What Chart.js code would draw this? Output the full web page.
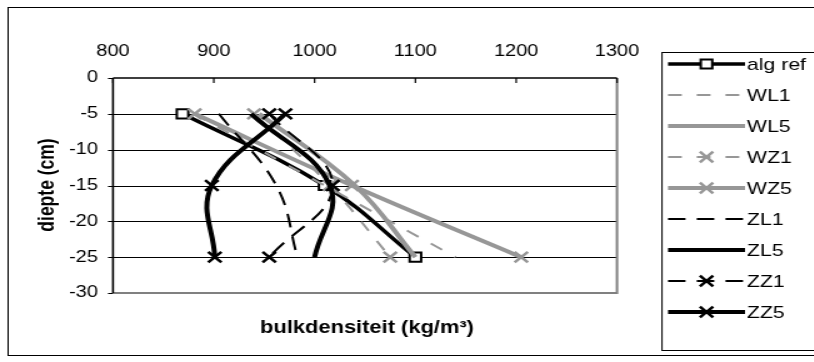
<!DOCTYPE html>
<html>
<head>
<meta charset="utf-8">
<script src="https://cdn.jsdelivr.net/npm/chart.js@4"></script>
<style>
  html, body { margin: 0; padding: 0; background: #fff; overflow: hidden; }
  /* the chart is laid out narrow and widened horizontally */
  #wrap { width: 651px; height: 362px; transform: scaleX(1.25); transform-origin: 0 0; }
</style>
</head>
<body>
<div id="wrap"><canvas id="c" width="651" height="362"></canvas></div>
<script>
// depth levels (cm) and measured bulk density per treatment (kg/m³)
const depths = [-5, -15, -25];
const xTicks = [800, 900, 1000, 1100, 1200, 1300];
const yTicks = [0, -5, -10, -15, -20, -25, -30];
const seriesNames = ['alg ref', 'WL1', 'WL5', 'WZ1', 'WZ5', 'ZL1', 'ZL5', 'ZZ1', 'ZZ5'];
const algRef = [869, 1010, 1100];
const wl1 = [880, 1010, 1140];
const wl5 = [945, 1040, 1100];
const wz1 = [940, 1015, 1075];
const wz5 = [881, 1037, 1205];
const zl1 = [905, 962, 983];
const zl5 = [937, 1015, 1000];
const zz1 = [955, 1018, 955];
const zz5 = [971, 898, 901];
const xTitle = 'bulkdensiteit (kg/m³)';
const yTitle = 'diepte (cm)';

const seriesValues = [algRef, wl1, wl5, wz1, wz5, zl1, zl5, zz1, zz5];

const GRAY = '#979797';
const BLACK = '#000000';
const styles = [
  { color: BLACK, width: 3.5, dash: [],       marker: 'rect' },
  { color: GRAY,  width: 2,   dash: [11, 12], marker: null },
  { color: GRAY,  width: 4,   dash: [],       marker: null },
  { color: GRAY,  width: 2,   dash: [11, 12], marker: 'x' },
  { color: GRAY,  width: 4,   dash: [],       marker: 'x' },
  { color: BLACK, width: 2,   dash: [14, 9],  marker: null },
  { color: BLACK, width: 4,   dash: [],       marker: null },
  { color: BLACK, width: 2,   dash: [14, 9],  marker: 'x' },
  { color: BLACK, width: 4,   dash: [],       marker: 'x' }
];

const datasets = seriesNames.map((name, i) => {
  const st = styles[i];
  return {
    label: name,
    data: depths.map((d, k) => ({ x: seriesValues[i][k], y: d })),
    showLine: true,
    borderColor: st.color,
    borderWidth: st.width,
    borderDash: st.dash,
    tension: 0.4,
    fill: false,
    pointStyle: st.marker === 'rect' ? 'rect' : (st.marker === 'x' ? 'crossRot' : false),
    pointRadius: st.marker === 'rect' ? 6.5 : (st.marker === 'x' ? 7.5 : 0),
    pointBorderWidth: st.marker === 'rect' ? 2 : 2.5,
    pointBorderColor: st.color,
    pointBackgroundColor: '#ffffff',
    order: seriesNames.length - i
  };
});

const TICK_FONT = { family: "'Liberation Sans', Arial, sans-serif", size: 16 };

function drawMarker(ctx, type, x, y, color) {
  ctx.save();
  ctx.setLineDash([]);
  ctx.strokeStyle = color;
  if (type === 'rect') {
    const s = 6.5 * Math.SQRT1_2;
    ctx.lineWidth = 2;
    ctx.fillStyle = '#fff';
    ctx.beginPath();
    ctx.rect(x - s, y - s, 2 * s, 2 * s);
    ctx.fill();
    ctx.stroke();
  } else if (type === 'x') {
    const s = 7.5 * Math.SQRT1_2;
    ctx.lineWidth = 2.5;
    ctx.beginPath();
    ctx.moveTo(x - s, y - s); ctx.lineTo(x + s, y + s);
    ctx.moveTo(x - s, y + s); ctx.lineTo(x + s, y - s);
    ctx.stroke();
  }
  ctx.restore();
}

const framePlugin = {
  id: 'frame',
  beforeDraw(chart) {
    const ctx = chart.ctx;
    ctx.save();
    ctx.fillStyle = '#fff';
    ctx.fillRect(0, 0, chart.width, chart.height);
    ctx.strokeStyle = '#000';
    ctx.lineWidth = 1;
    ctx.strokeRect(6.5, 7.5, 700, 348);
    ctx.restore();
  },
  beforeDatasetsDraw(chart) {
    const ctx = chart.ctx;
    const a = chart.chartArea;
    const xs = chart.scales.x, ys = chart.scales.y;
    ctx.save();
    // horizontal gridlines
    ctx.strokeStyle = '#000';
    ctx.lineWidth = 1;
    yTicks.forEach(v => {
      if (v === 0 || v === -30) return;
      const py = Math.round(ys.getPixelForValue(v)) + 0.5;
      ctx.beginPath(); ctx.moveTo(a.left, py); ctx.lineTo(a.right, py); ctx.stroke();
    });
    // plot area border (right and bottom)
    ctx.strokeStyle = '#808080';
    ctx.lineWidth = 2;
    ctx.beginPath();
    ctx.moveTo(a.left, a.bottom); ctx.lineTo(a.right, a.bottom); ctx.lineTo(a.right, a.top);
    ctx.stroke();
    // axes
    ctx.strokeStyle = '#000';
    ctx.lineWidth = 1.6;
    ctx.beginPath();
    ctx.moveTo(a.left, a.top); ctx.lineTo(a.right, a.top);
    ctx.moveTo(a.left, a.top); ctx.lineTo(a.left, a.bottom);
    ctx.stroke();
    // tick marks: top axis inside, left axis outside
    ctx.lineWidth = 1.2;
    ctx.beginPath();
    xTicks.forEach(v => {
      const px = xs.getPixelForValue(v);
      ctx.moveTo(px, a.top); ctx.lineTo(px, a.top + 5);
    });
    yTicks.forEach(v => {
      const py = Math.round(ys.getPixelForValue(v)) + 0.5;
      ctx.moveTo(a.left - 4, py); ctx.lineTo(a.left, py);
    });
    ctx.stroke();
    ctx.restore();
  },
  afterDraw(chart) {
    const ctx = chart.ctx;
    ctx.save();
    // axis titles
    ctx.fillStyle = '#000';
    ctx.font = "bold 17.5px 'Liberation Sans', Arial, sans-serif";
    ctx.textAlign = 'center';
    ctx.textBaseline = 'middle';
    ctx.fillText(xTitle, 293.6, 328);
    ctx.translate(38.4, 185);
    ctx.rotate(-Math.PI / 2);
    ctx.fillText(yTitle, 0, 0);
    ctx.restore();

    // legend
    ctx.save();
    const lx = 529.6, ltop = 52.5, lbottom = 350.5;
    ctx.fillStyle = '#fff';
    ctx.fillRect(lx, ltop, 200, lbottom - ltop);
    ctx.strokeStyle = '#000';
    ctx.lineWidth = 1;
    ctx.strokeRect(lx, ltop, 200, lbottom - ltop);
    ctx.font = "17px 'Liberation Sans', Arial, sans-serif";
    ctx.textAlign = 'left';
    ctx.textBaseline = 'middle';
    seriesNames.forEach((name, i) => {
      const st = styles[i];
      const y = 64 + i * 31;
      const x0 = 534.4, x1 = 596;
      ctx.save();
      ctx.strokeStyle = st.color;
      ctx.lineWidth = st.width;
      ctx.setLineDash(st.dash);
      ctx.beginPath(); ctx.moveTo(x0, y); ctx.lineTo(x1, y); ctx.stroke();
      ctx.restore();
      if (st.marker) drawMarker(ctx, st.marker, (x0 + x1) / 2, y, st.color);
      ctx.fillStyle = '#000';
      ctx.fillText(name, 597.6, y + 1);
    });
    ctx.restore();
  }
};

new Chart(document.getElementById('c'), {
  type: 'scatter',
  data: { datasets },
  options: {
    responsive: false,
    animation: false,
    devicePixelRatio: 1,
    layout: { padding: { left: 0, top: 0, right: 157.4, bottom: 69 } },
    plugins: { legend: { display: false }, tooltip: { enabled: false } },
    scales: {
      x: {
        type: 'linear',
        position: 'top',
        min: 800, max: 1300,
        afterBuildTicks: s => { s.ticks = xTicks.map(v => ({ value: v })); },
        grid: { display: false, drawTicks: false },
        border: { display: false },
        ticks: { font: TICK_FONT, color: '#000', padding: 17, maxRotation: 0, callback: v => String(v) },
        afterFit: s => { s.height = 78; }
      },
      y: {
        type: 'linear',
        min: -30, max: 0,
        afterBuildTicks: s => { s.ticks = yTicks.map(v => ({ value: v })); },
        grid: { display: false, drawTicks: false },
        border: { display: false },
        ticks: { font: TICK_FONT, color: '#000', padding: 12, callback: v => String(v) },
        afterFit: s => { s.width = 90.4; }
      }
    }
  },
  plugins: [framePlugin]
});
</script>
</body>
</html>
